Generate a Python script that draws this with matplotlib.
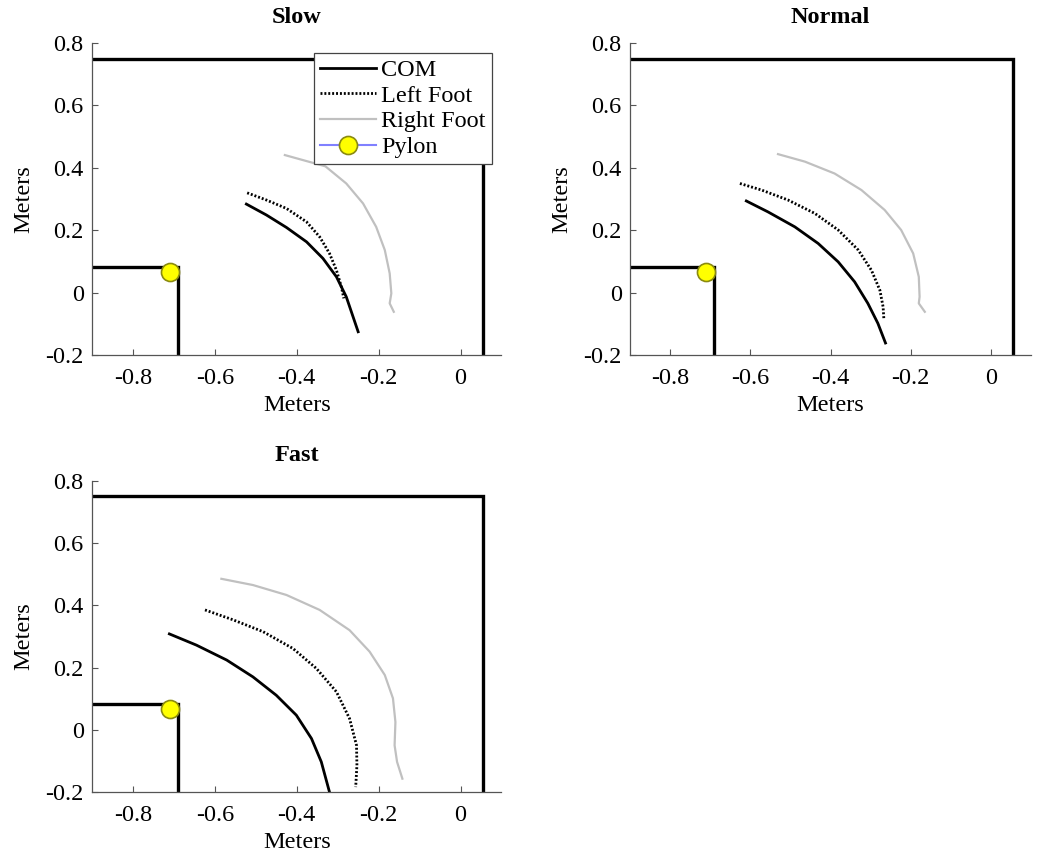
import matplotlib
matplotlib.use("Agg")
import matplotlib.pyplot as plt

plt.rcParams['font.family'] = ['Liberation Serif', 'DejaVu Serif']
plt.rcParams['axes.unicode_minus'] = False

# walls of the room (x, y)
wall_x = [-0.9, 0.055, 0.055]
wall_y = [0.75, 0.75, -0.2]
box_x = [-0.9, -0.69, -0.69]
box_y = [0.083, 0.083, -0.2]
pylon_x = [-0.71]
pylon_y = [0.068]

# Slow trial
slow_com_x = [-0.523, -0.474, -0.425, -0.376, -0.336, -0.303, -0.279, -0.250]
slow_com_y = [0.284, 0.249, 0.209, 0.163, 0.110, 0.051, -0.013, -0.125]
slow_left_x = [-0.521, -0.474, -0.425, -0.376, -0.344, -0.320, -0.303, -0.291, -0.285]
slow_left_y = [0.320, 0.297, 0.270, 0.227, 0.179, 0.126, 0.072, 0.019, -0.018]
slow_right_x = [-0.429, -0.33, -0.279, -0.238, -0.206, -0.185, -0.173, -0.169, -0.173, -0.163]
slow_right_y = [0.441, 0.405, 0.350, 0.286, 0.211, 0.137, 0.062, -0.002, -0.034, -0.061]

# Normal trial
norm_com_x = [-0.610, -0.556, -0.489, -0.431, -0.381, -0.340, -0.307, -0.282, -0.263]
norm_com_y = [0.294, 0.259, 0.211, 0.158, 0.099, 0.035, -0.034, -0.098, -0.161]
norm_left_x = [-0.626, -0.572, -0.506, -0.439, -0.381, -0.331, -0.298, -0.277, -0.269, -0.267]
norm_left_y = [0.350, 0.329, 0.297, 0.254, 0.201, 0.137, 0.072, 0.008, -0.045, -0.086]
norm_right_x = [-0.531, -0.464, -0.390, -0.323, -0.265, -0.224, -0.194, -0.180, -0.178, -0.180, -0.165]
norm_right_y = [0.444, 0.420, 0.382, 0.329, 0.265, 0.201, 0.126, 0.051, -0.013, -0.034, -0.061]

# Fast trial
fast_com_x = [-0.711, -0.645, -0.571, -0.507, -0.450, -0.401, -0.364, -0.340, -0.320]
fast_com_y = [0.308, 0.272, 0.224, 0.170, 0.111, 0.047, -0.028, -0.103, -0.200]
fast_left_x = [-0.624, -0.555, -0.482, -0.409, -0.352, -0.303, -0.271, -0.254, -0.253, -0.256]
fast_left_y = [0.385, 0.353, 0.315, 0.261, 0.197, 0.122, 0.036, -0.050, -0.114, -0.184]
fast_right_x = [-0.584, -0.507, -0.425, -0.344, -0.271, -0.222, -0.185, -0.165, -0.159, -0.161, -0.155, -0.142]
fast_right_y = [0.485, 0.465, 0.433, 0.385, 0.320, 0.251, 0.176, 0.101, 0.025, -0.050, -0.103, -0.157]

xticks = [-0.8, -0.6, -0.4, -0.2, 0]
xtick_labels = ['-0.8', '-0.6', '-0.4', '-0.2', '0']
yticks = [-0.2, 0, 0.2, 0.4, 0.6, 0.8]
ytick_labels = ['-0.2', '0', '0.2', '0.4', '0.6', '0.8']

fs = 17.5

fig = plt.figure(figsize=(10.5, 8.6), dpi=100)
ax_slow = fig.add_axes([0.0876, 0.587, 0.390, 0.363])
ax_norm = fig.add_axes([0.600, 0.587, 0.382, 0.363])
ax_fast = fig.add_axes([0.0876, 0.079, 0.390, 0.362])


def draw(ax, title, com, left, right):
    ax.plot(wall_x, wall_y, color='black', lw=2.4, solid_joinstyle='miter')
    ax.plot(box_x, box_y, color='black', lw=2.4, solid_joinstyle='miter')
    ax.plot(com[0], com[1], color='black', lw=2.0, label='COM')
    ax.plot(left[0], left[1], color='black', lw=2.0, ls=(0, (0.7, 0.7)), label='Left Foot')
    ax.plot(right[0], right[1], color='#c0c0c0', lw=1.6, label='Right Foot')
    ax.plot(pylon_x, pylon_y, color='#8080ff', marker='o', ms=13, mfc='#ffff00',
            mec='#8a8a10', mew=1.2, label='Pylon')
    ax.set_xlim(-0.9, 0.1)
    ax.set_ylim(-0.2, 0.8)
    ax.set_xticks(xticks)
    ax.set_xticklabels(xtick_labels)
    ax.set_yticks(yticks)
    ax.set_yticklabels(ytick_labels)
    ax.tick_params(direction='in', length=4, width=0.8, labelsize=fs, pad=6,
                   color='#555555')
    ax.tick_params(axis='x', pad=9.5)
    for s in ['top', 'right']:
        ax.spines[s].set_visible(False)
    for s in ['left', 'bottom']:
        ax.spines[s].set_color('#555555')
        ax.spines[s].set_linewidth(0.9)
    ax.set_xlabel('Meters', fontsize=fs, labelpad=4)
    ax.set_ylabel('Meters', fontsize=fs, labelpad=8)
    ax.set_title(title, fontsize=fs, fontweight='bold', pad=14.5)


draw(ax_slow, 'Slow', (slow_com_x, slow_com_y), (slow_left_x, slow_left_y),
     (slow_right_x, slow_right_y))
draw(ax_norm, 'Normal', (norm_com_x, norm_com_y), (norm_left_x, norm_left_y),
     (norm_right_x, norm_right_y))
draw(ax_fast, 'Fast', (fast_com_x, fast_com_y), (fast_left_x, fast_left_y),
     (fast_right_x, fast_right_y))

leg = ax_slow.legend(loc='upper right', bbox_to_anchor=(0.976, 0.968), fontsize=fs,
                     fancybox=False, framealpha=1, edgecolor='#444444',
                     handlelength=2.3, handletextpad=0.2, labelspacing=0.15,
                     borderpad=0.25, borderaxespad=0)
leg.get_frame().set_linewidth(0.9)

fig.savefig('out.png', dpi=100)
